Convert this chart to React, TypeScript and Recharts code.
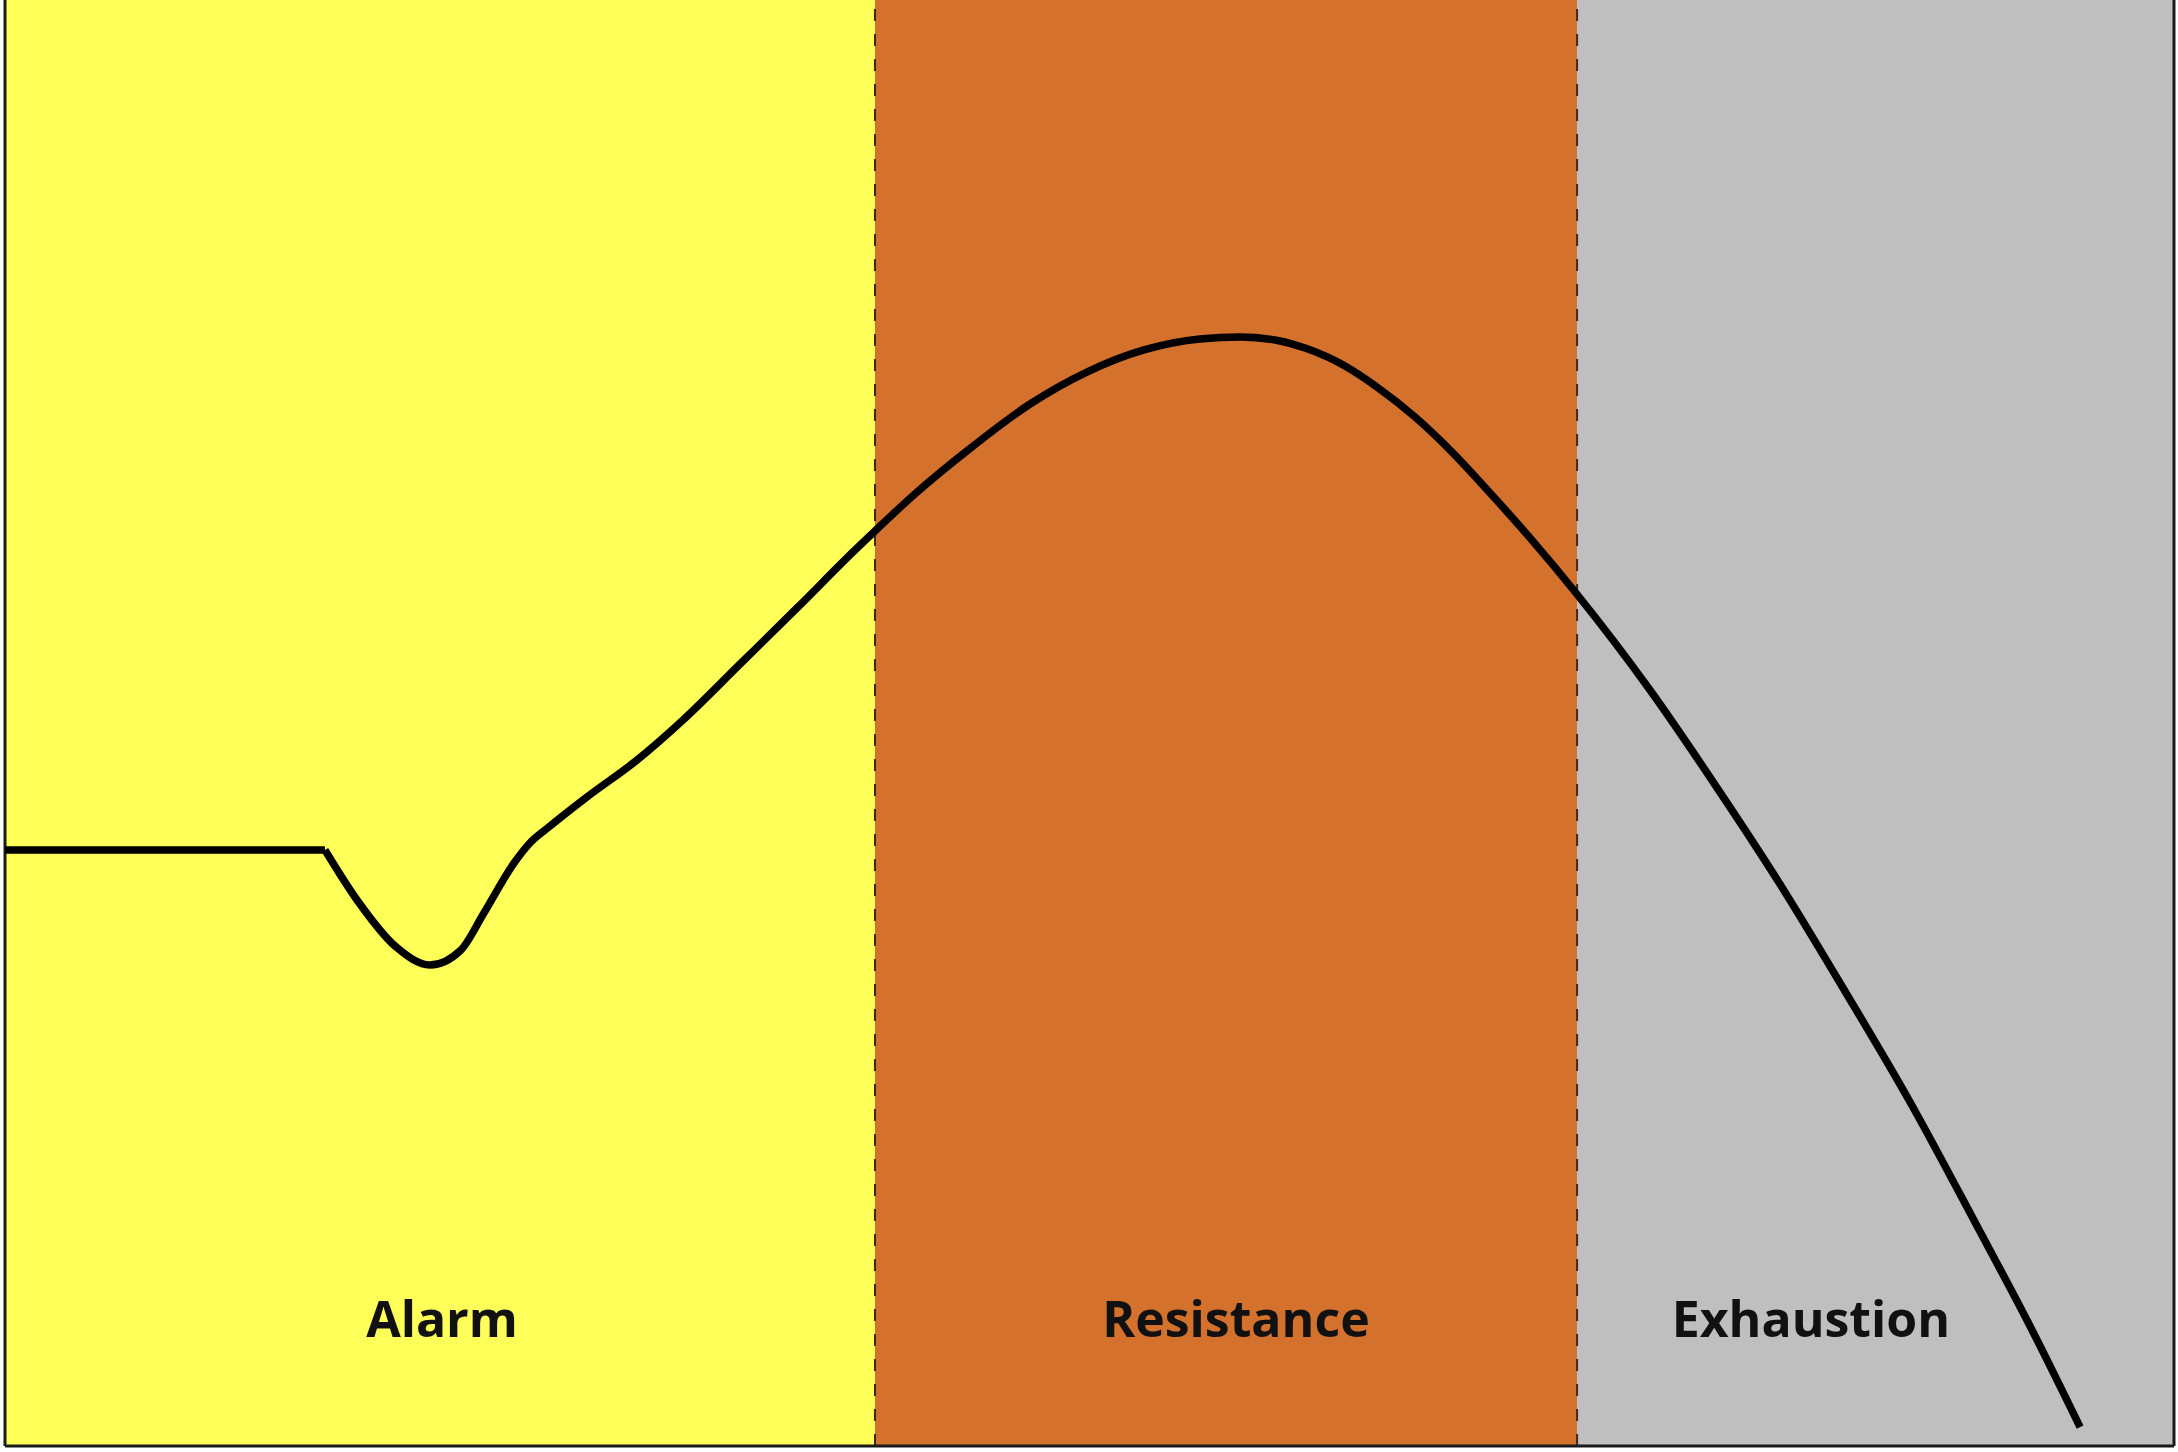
import {
  ComposedChart,
  Line,
  ReferenceArea,
  ReferenceDot,
  ReferenceLine,
  XAxis,
  YAxis,
} from 'recharts';

/*
 * General adaptation syndrome — resistance level over time,
 * split into the three phases (alarm, resistance, exhaustion).
 */

const PHASES = ['Alarm', 'Resistance', 'Exhaustion'];
const PHASE_START = [0, 40.11, 72.48];
const PHASE_END = [40.11, 72.48, 100];
const PHASE_COLORS = ['#FFFF5A', '#D3712D', '#BFBFBF'];
const LABEL_X = [20.15, 56.75, 83.26];
const LABEL_Y = 8.8;

// normal level before the stressor
const BASE_T = [0, 14.75];
const BASE_V = [41.22, 41.22];

// response after the stressor hits
const RESP_T = [
  14.75, 16.23, 18.03, 19.59, 21.02, 22.08, 23.47, 24.2, 25.08, 26.83, 29.14, 31.26, 33.89, 36.56,
  39.19, 40.11, 41.95, 44.58, 47.26, 49.88, 52.51, 55.09, 56.94, 58.78, 59.94, 61.78, 63.25, 65.01,
  66.76, 68.51, 70.31, 72.43, 75.84, 78.88, 81.83, 84.88, 87.83, 90.87, 93.36, 95.67,
];
const RESP_V = [
  41.22, 37.76, 34.51, 33.26, 34.3, 36.86, 40.32, 41.7, 42.81, 44.88, 47.44, 50.21, 54.08, 58.02,
  61.96, 63.28, 65.84, 69.09, 72.06, 74.27, 75.8, 76.56, 76.69, 76.42, 75.93, 74.69, 73.24, 71.16,
  68.67, 65.84, 62.8, 58.99, 52.28, 45.64, 38.87, 31.33, 23.79, 15.35, 8.3, 1.31,
];

const baseline = BASE_T.map((t, i) => ({ t, v: BASE_V[i] }));
const response = RESP_T.map((t, i) => ({ t, v: RESP_V[i] }));

const BORDER = '#1a1a1a';
const FONT = '"Open Sans", "Noto Sans", sans-serif';

export default function App() {
  return (
    <div style={{ width: 2178, height: 1452 }}>
      <style>{'body{margin:0}'}</style>
      <ComposedChart width={2178} height={1452} margin={{ top: 0, right: 4, bottom: 6, left: 5 }}>
        <XAxis type="number" dataKey="t" domain={[0, 100]} height={0} tick={false} tickLine={false} axisLine={false} />
        <YAxis type="number" domain={[0, 100]} width={0} tick={false} tickLine={false} axisLine={false} />
        {PHASES.map((p, i) => (
          <ReferenceArea
            key={p}
            x1={PHASE_START[i]}
            x2={PHASE_END[i]}
            y1={0}
            y2={100}
            fill={PHASE_COLORS[i]}
            fillOpacity={1}
            stroke="none"
          />
        ))}
        {PHASE_START.slice(1).map((x) => (
          <ReferenceLine key={x} x={x} stroke="#3a2a20" strokeWidth={2} strokeDasharray="12 13" />
        ))}
        {/* frame: left, right, bottom */}
        <ReferenceLine x={0} stroke={BORDER} strokeWidth={3} ifOverflow="visible" />
        <ReferenceLine x={100} stroke={BORDER} strokeWidth={3} ifOverflow="visible" />
        <ReferenceLine y={0} stroke={BORDER} strokeWidth={3} ifOverflow="visible" />
        {PHASES.map((p, i) => (
          <ReferenceDot
            key={p}
            x={LABEL_X[i]}
            y={LABEL_Y}
            r={0}
            fill="none"
            stroke="none"
            label={{
              value: p,
              position: 'center',
              fill: '#111',
              fontSize: 50,
              fontWeight: 700,
              fontFamily: FONT,
            }}
          />
        ))}
        <Line
          data={baseline}
          dataKey="v"
          type="linear"
          stroke="#000"
          strokeWidth={7.5}
          dot={false}
          isAnimationActive={false}
        />
        <Line
          data={response}
          dataKey="v"
          type="monotone"
          stroke="#000"
          strokeWidth={7.5}
          strokeLinejoin="round"
          dot={false}
          isAnimationActive={false}
        />
      </ComposedChart>
    </div>
  );
}
